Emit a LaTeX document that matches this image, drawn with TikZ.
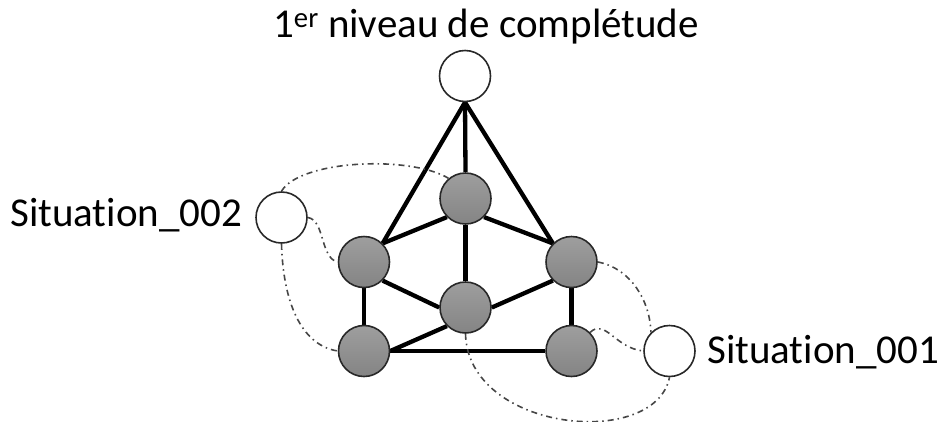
\documentclass[tikz,border=0pt]{standalone}
\usepackage{fontspec}
\setmainfont[Ligatures=NoCommon]{Carlito}
\usetikzlibrary{backgrounds}
\definecolor{nodetop}{RGB}{158,158,158}
\definecolor{nodebot}{RGB}{132,132,132}
\definecolor{nodeline}{RGB}{40,40,40}
\definecolor{linkgray}{RGB}{70,70,70}
\tikzset{
  graynode/.style={circle, minimum size=51pt, inner sep=0pt, draw=nodeline, line width=1.6pt, top color=nodetop, bottom color=nodebot},
  whitenode/.style={circle, minimum size=51pt, inner sep=0pt, draw=nodeline, line width=1.6pt, fill=white},
  edge/.style={line width=4.3pt, black},
  link/.style={linkgray, line width=1.6pt, dash pattern=on 6pt off 4pt on 1.5pt off 4pt},
  label/.style={inner sep=0pt, font=\fontsize{41}{49}\selectfont, anchor=base west}
}
\begin{document}
\begin{tikzpicture}[x=1pt, y=-1pt]
\useasboundingbox (0,0) rectangle (941,421);
% nodes
\node[whitenode] (top) at (465,76) {};
\node[graynode] (tm) at (465.5,198.5) {};
\node[graynode] (lm) at (364,262) {};
\node[graynode] (rm) at (571.5,262) {};
\node[graynode] (c) at (465.5,307.5) {};
\node[graynode] (bl) at (364,351) {};
\node[graynode] (br) at (571.5,351) {};
\node[whitenode] (s2) at (281.5,217.5) {};
\node[whitenode] (s1) at (669.5,351) {};
% labels
\node[label] (title) at (273,37) {1\textsuperscript{er} niveau de complétude};
\node[label] (l2) at (10,226) {Situation\_002};
\node[label] (l1) at (707,363) {Situation\_001};
% edges
\begin{scope}[on background layer]
\draw[edge] (top.south) -- (tm.north);
\draw[edge] (top.south) -- (lm.north east);
\draw[edge] (top.south) -- (rm.north west);
\draw[edge] (tm.south west) -- (lm.north east);
\draw[edge] (tm.south east) -- (rm.north west);
\draw[edge] (tm.south) -- (c.north);
\draw[edge] (lm.south east) -- (c.west);
\draw[edge] (rm.south west) -- (c.east);
\draw[edge] (lm.south) -- (bl.north);
\draw[edge] (rm.south) -- (br.north);
\draw[edge] (bl.east) -- (br.west);
\draw[edge] (bl.east) -- (c.south west);
\end{scope}
% dash-dot links
\draw[link] (s2.north) .. controls (300,160) and (410,155) .. (tm.130);
\draw[link] (s2.east) .. controls (325,220) and (320,258) .. (lm.west);
\draw[link] (s2.south) .. controls (283,300) and (300,345) .. (bl.west);
\draw[link] (rm.east) .. controls (630,268) and (650,300) .. (s1.north west);
\draw[link] (br.north east) .. controls (605,318) and (615,348) .. (s1.west);
\draw[link] (c.south) .. controls (468,432) and (655,450) .. (s1.south);
\end{tikzpicture}
\end{document}
